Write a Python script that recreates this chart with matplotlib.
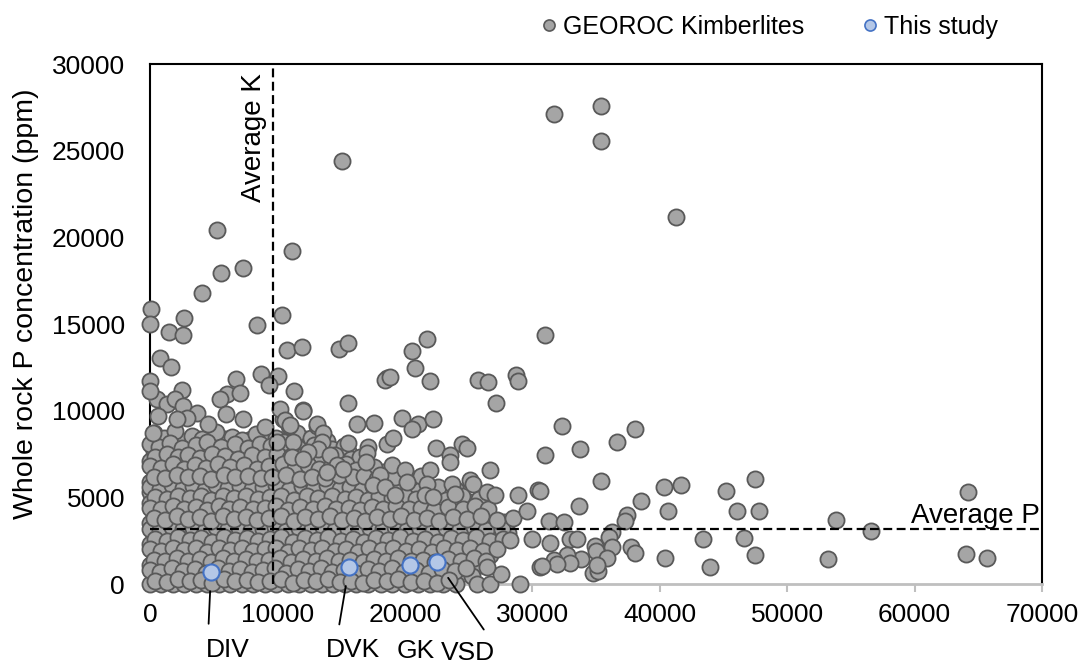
import numpy as np
import matplotlib.pyplot as plt
from matplotlib.lines import Line2D

plt.rcParams['font.family'] = ['Liberation Sans', 'DejaVu Sans']

# GEOROC kimberlites, K (ppm) vs P (ppm)
# sparse points (high P or high K)
outer = [(31700, 27100), (35400, 27560), (35400, 25530), (15070, 24430), (41290, 21190),
         (5260, 20440), (11150, 19220), (5570, 17950), (7300, 18240), (4080, 16790),
         (80, 15860), (0, 15000), (2670, 15340), (1490, 14530), (2590, 14360),
         (790, 13030), (1650, 12510), (8400, 14940), (10360, 15520), (10750, 13490),
         (11930, 13660), (14840, 13550), (15540, 13900), (31010, 14360), (20570, 13430),
         (21740, 14130), (20800, 12450), (18450, 11750), (18840, 11930), (21980, 11700),
         (25750, 11750), (26530, 11640), (28730, 12040), (28890, 11700), (27160, 10420),
         (15540, 10420), (16250, 9210), (17580, 9260), (19780, 9550), (21040, 9210),
         (22220, 9500), (20570, 8920), (32340, 9090), (31010, 7470), (33760, 7760),
         (36660, 8220), (38070, 8920), (35400, 5960), (30620, 5380), (33680, 4520),
         (38540, 4810), (40350, 5620), (41680, 5730), (40660, 4230), (45220, 5380),
         (47490, 6080), (46080, 4230), (47810, 4230), (31320, 3650), (32500, 3590),
         (37440, 4000), (37290, 3650), (36270, 3010), (32970, 2610), (33520, 2610),
         (31400, 2370), (36030, 2720), (36270, 2140), (37760, 2140), (38070, 1790),
         (34930, 2200), (35010, 1910), (35870, 1510), (33830, 1450), (32730, 1680),
         (32970, 1220), (31710, 1390), (31950, 1160), (30770, 1040), (34780, 640),
         (35170, 750), (35090, 1100), (43410, 2610), (46630, 2660), (40430, 1510),
         (43960, 980), (47490, 1680), (53850, 3710), (56600, 3070), (53220, 1450),
         (64210, 5330), (64060, 1740), (65700, 1510)]

# intermediate density, 10000-30000 ppm K
middle = [(18600, 11870), (12010, 9960), (10200, 10070), (10600, 9440), (10990, 9150),
          (13110, 9210), (13580, 8740), (15540, 8160), (13500, 8220), (13190, 7760),
          (12400, 7640), (11230, 8220), (9970, 8220), (11150, 7350), (12010, 7240),
          (14130, 7470), (14680, 6890), (15150, 6660), (13890, 6480), (17110, 7930),
          (17030, 7530), (16960, 7060), (18600, 8050), (19080, 8400), (19000, 6890),
          (20020, 6600), (21980, 6600), (22450, 7870), (23550, 7470), (23550, 7060),
          (24490, 8050), (24880, 7870), (26690, 6600), (18060, 6310), (17510, 5730),
          (18450, 5620), (20170, 5910), (21740, 5790), (21590, 5150), (23710, 5790),
          (25120, 6020), (25360, 5790), (23940, 5210), (26450, 5330), (27080, 5150),
          (28890, 5150), (30460, 5440), (22220, 5040), (19230, 5150), (29590, 4230),
          (28260, 2550), (29990, 2610), (30620, 980), (29050, 0), (25670, 0),
          (26690, 0), (27550, 580), (26450, 980)]

# low K, moderately high P
left_upper = [(6750, 11810), (8710, 12100), (10050, 11990), (9340, 11460), (11300, 11120),
              (0, 11700), (2510, 11170), (6040, 10940), (7070, 11000), (5500, 10650),
              (12010, 10020), (550, 10650), (1330, 10360), (0, 11120), (1960, 10650),
              (2590, 10250), (3690, 9840), (4550, 9210), (5970, 9790), (7300, 9500),
              (9030, 9030), (10440, 9500), (10910, 9090), (13110, 9090), (2900, 9550),
              (630, 9670), (2120, 9500), (240, 8690)]

# dense cloud, K < 28000 ppm and P < 9000 ppm
dense_hi = [(300, 8700), (1100, 8450), (2000, 8800), (3300, 8550), (4100, 8350), (5200, 8750),
            (6400, 8500), (7200, 8300), (8300, 8650), (9900, 8400), (11500, 8700), (12600, 8450),
            (13900, 8250),
            (0, 8050), (700, 7900), (1600, 8150), (2500, 7850), (3600, 8000), (4500, 8200),
            (5600, 7900), (6700, 8100), (7700, 7850), (8600, 8050), (9500, 7950), (10500, 8200),
            (11600, 7850), (12900, 8000), (14300, 7800), (15200, 7950),
            (400, 7350), (1300, 7500), (2200, 7300), (3000, 7450), (3900, 7250), (4900, 7500),
            (5900, 7400), (6900, 7200), (8000, 7450), (9000, 7300), (10000, 7500), (11000, 7250),
            (12000, 7400), (13400, 7300), (14500, 7450), (15800, 7200), (16500, 7350),
            (0, 6800), (900, 6700), (1800, 6900), (2700, 6650), (3500, 6850), (4400, 6700),
            (5300, 6950), (6300, 6750), (7400, 6850), (8400, 6650), (9300, 6800), (10400, 6900),
            (11400, 6700), (12400, 6850), (13300, 6650), (14200, 6750), (15400, 6900),
            (16200, 6600), (17600, 6750),
            (300, 6200), (1200, 6100), (2100, 6300), (3000, 6150), (3900, 6250), (4800, 6050),
            (5800, 6300), (6700, 6150), (7700, 6250), (8700, 6100), (9600, 6200), (10700, 6300),
            (11800, 6050), (12700, 6200), (13700, 6100), (14800, 6300), (15900, 6150),
            (16800, 6250), (17800, 6050), (19200, 6200), (20400, 6100), (21300, 6250)]

dense_mid = [(0, 5600), (800, 5500), (1700, 5700), (2600, 5550), (3400, 5650), (4300, 5450),
             (5200, 5700), (6100, 5550), (7100, 5650), (8000, 5500), (8900, 5600), (9900, 5700),
             (10900, 5450), (11900, 5650), (12900, 5550), (13900, 5700), (14900, 5500),
             (15700, 5600), (16600, 5450), (17500, 5650), (18500, 5550), (19700, 5700),
             (20800, 5500), (22600, 5600), (24000, 5450),
             (400, 5000), (1300, 4900), (2200, 5100), (3100, 4950), (4000, 5050), (4800, 4850),
             (5700, 5100), (6600, 4950), (7500, 5050), (8500, 4900), (9400, 5000), (10300, 5100),
             (11300, 4850), (12300, 5050), (13200, 4950), (14300, 5100), (15300, 4900),
             (16200, 5000), (17100, 4850), (18000, 5050), (19000, 4950), (20000, 5100),
             (20900, 4900), (22000, 5000), (23200, 4850), (24500, 5050), (25800, 4900),
             (0, 4400), (900, 4300), (1800, 4500), (2700, 4350), (3600, 4450), (4500, 4250),
             (5400, 4500), (6200, 4350), (7100, 4450), (8100, 4300), (9000, 4400), (9900, 4500),
             (10800, 4250), (11800, 4450), (12800, 4350), (13700, 4500), (14600, 4300),
             (15600, 4400), (16500, 4250), (17400, 4450), (18300, 4350), (19300, 4500),
             (20300, 4300), (21300, 4400), (22300, 4250), (23400, 4450), (24600, 4350),
             (25500, 4500), (26500, 4300),
             (300, 3800), (1200, 3700), (2100, 3900), (3000, 3750), (3900, 3850), (4800, 3650),
             (5700, 3900), (6600, 3750), (7500, 3850), (8400, 3700), (9300, 3800), (10300, 3900),
             (11300, 3650), (12200, 3850), (13200, 3750), (14100, 3900), (15100, 3700),
             (16000, 3800), (16900, 3650), (17800, 3850), (18800, 3750), (19700, 3900),
             (20700, 3700), (21700, 3800), (22700, 3650), (23800, 3850), (24900, 3750),
             (26000, 3900), (27200, 3700), (28500, 3800)]

dense_lo = [(0, 3200), (800, 3100), (1700, 3300), (2600, 3150), (3400, 3250), (4300, 3050),
            (5200, 3300), (6100, 3150), (7000, 3250), (7900, 3100), (8900, 3200), (9800, 3300),
            (10700, 3050), (11700, 3250), (12700, 3150), (13600, 3300), (14500, 3100),
            (15500, 3200), (16400, 3050), (17300, 3250), (18300, 3150), (19200, 3300),
            (20200, 3100), (21200, 3200), (22200, 3050), (23200, 3250), (24300, 3150),
            (25400, 3300), (26400, 3100), (27600, 3200),
            (400, 2600), (1300, 2500), (2200, 2700), (3100, 2550), (4000, 2650), (4900, 2450),
            (5800, 2700), (6700, 2550), (7600, 2650), (8500, 2500), (9400, 2600), (10300, 2700),
            (11200, 2450), (12200, 2650), (13100, 2550), (14000, 2700), (15000, 2500),
            (15900, 2600), (16800, 2450), (17700, 2650), (18700, 2550), (19600, 2700),
            (20600, 2500), (21600, 2600), (22600, 2450), (23600, 2650), (24600, 2550),
            (25600, 2700), (26700, 2500), (27700, 2600),
            (0, 2000), (900, 1900), (1800, 2100), (2700, 1950), (3600, 2050), (4500, 1850),
            (5400, 2100), (6300, 1950), (7200, 2050), (8100, 1900), (9000, 2000), (9900, 2100),
            (10800, 1850), (11700, 2050), (12600, 1950), (13500, 2100), (14500, 1900),
            (15400, 2000), (16300, 1850), (17200, 2050), (18200, 1950), (19100, 2100),
            (20100, 1900), (21100, 2000), (22100, 1850), (23100, 2050), (24100, 1950),
            (25100, 2100), (26100, 1900), (27200, 2000),
            (300, 1400), (1200, 1300), (2100, 1500), (3000, 1350), (3900, 1450), (4800, 1250),
            (5700, 1500), (6600, 1350), (7500, 1450), (8400, 1300), (9300, 1400), (10200, 1500),
            (11100, 1250), (12000, 1450), (13000, 1350), (13900, 1500), (14800, 1300),
            (15700, 1400), (16700, 1250), (17600, 1450), (18500, 1350), (19500, 1500),
            (20500, 1300), (21400, 1400), (22400, 1250), (23400, 1450), (24400, 1350),
            (25400, 1500), (26400, 1300),
            (0, 800), (800, 700), (1700, 900), (2600, 750), (3500, 850), (4400, 650),
            (5300, 900), (6200, 750), (7100, 850), (8000, 700), (8900, 800), (9800, 900),
            (10700, 650), (11600, 850), (12500, 750), (13400, 900), (14300, 700), (15200, 800),
            (16200, 650), (17100, 850), (18000, 750), (19000, 900), (19900, 700), (20900, 800),
            (21900, 650), (22900, 850), (23900, 750), (24800, 900),
            (400, 200), (1300, 100), (2200, 300), (3100, 150), (4000, 250), (4900, 50),
            (5800, 300), (6700, 150), (7600, 250), (8500, 100), (9400, 200), (10300, 300),
            (11200, 50), (12100, 250), (13000, 150), (14000, 300), (14900, 100), (15800, 200),
            (16700, 50), (17600, 250), (18600, 150), (19500, 300), (20500, 100), (21500, 200),
            (22500, 50), (23500, 250)]

# more of the dense cloud, between the rows above
fill_hi = [(800, 8300), (1600, 8400), (2700, 8250), (3800, 8350), (4700, 8200), (5900, 8350),
           (6900, 8250), (7900, 8350), (9000, 8250), (10800, 8300), (12200, 8350), (13300, 8200),
           (300, 7700), (1100, 7650), (2000, 7750), (3100, 7700), (4200, 7650), (5200, 7750),
           (6300, 7650), (7300, 7700), (8500, 7700), (9600, 7650), (10600, 7750), (11700, 7650),
           (12600, 7700), (13900, 7650), (15500, 7700),
           (0, 7100), (800, 7050), (1700, 7150), (2600, 7050), (3500, 7100), (4400, 7150),
           (5400, 7050), (6400, 7100), (7500, 7150), (8500, 7050), (9500, 7100), (10500, 7150),
           (11500, 7050), (12700, 7100), (13900, 7050), (15000, 7150), (16800, 7000),
           (400, 6500), (1300, 6450), (2200, 6550), (3100, 6450), (4000, 6500), (4900, 6550),
           (5800, 6450), (6800, 6500), (7900, 6550), (8900, 6450), (9800, 6500), (10900, 6550),
           (11900, 6450), (12900, 6500), (13800, 6550), (14700, 6450), (15800, 6500),
           (16900, 6400), (18300, 6450),
           (0, 5900), (800, 5850), (1600, 5950), (2500, 5850), (3500, 5900), (4300, 5950),
           (5300, 5850), (6200, 5900), (7200, 5950), (8200, 5850), (9100, 5900), (10200, 5950),
           (11300, 5850), (12300, 5900), (13200, 5950), (14300, 5850), (15400, 5900),
           (16300, 5950), (17300, 5850), (18300, 5900), (19700, 5950), (21000, 5850),
           (0, 5300), (900, 5250), (1800, 5350), (2700, 5250), (3600, 5300), (4500, 5350),
           (5500, 5250), (6400, 5300), (7300, 5350), (8300, 5250), (9200, 5300), (10100, 5350),
           (11100, 5250), (12100, 5300), (13100, 5350), (14000, 5250), (14900, 5300),
           (15800, 5350), (16700, 5250), (17700, 5300), (18700, 5350), (19500, 5250),
           (20500, 5300), (21500, 5350), (23000, 5250),
           (0, 4700), (800, 4650), (1700, 4750), (2600, 4650), (3500, 4700), (4400, 4750),
           (5200, 4650), (6100, 4700), (7000, 4750), (8000, 4650), (8900, 4700), (9800, 4750),
           (10800, 4650), (11700, 4700), (12700, 4750), (13700, 4650), (14700, 4700),
           (15700, 4750), (16600, 4650), (17500, 4700), (18500, 4750), (19500, 4650),
           (20500, 4700), (21500, 4750), (22600, 4650), (23800, 4700), (25000, 4750),
           (400, 4100), (1300, 4050), (2200, 4150), (3100, 4050), (4000, 4100), (4900, 4150),
           (5800, 4050), (6700, 4100), (7600, 4150), (8500, 4050), (9400, 4100), (10300, 4150),
           (11300, 4050), (12300, 4100), (13200, 4150), (14100, 4050), (15100, 4100),
           (16000, 4150), (17000, 4050), (17900, 4100), (18800, 4150), (19800, 4050),
           (20800, 4100), (21800, 4150), (22800, 4050), (23900, 4100), (25000, 4150),
           (26000, 4050)]

fill_lo = [(0, 3500), (800, 3450), (1700, 3550), (2500, 3450), (3400, 3500), (4300, 3550),
           (5200, 3450), (6100, 3500), (7000, 3550), (7900, 3450), (8800, 3500), (9800, 3550),
           (10800, 3450), (11700, 3500), (12700, 3550), (13600, 3450), (14600, 3500),
           (15500, 3550), (16400, 3450), (17300, 3500), (18300, 3550), (19200, 3450),
           (20200, 3500), (21200, 3550), (22200, 3450), (23300, 3500), (24400, 3550),
           (25500, 3450), (26600, 3500), (27800, 3550),
           (300, 2900), (1200, 2850), (2100, 2950), (3000, 2850), (3900, 2900), (4800, 2950),
           (5700, 2850), (6600, 2900), (7500, 2950), (8400, 2850), (9300, 2900), (10200, 2950),
           (11200, 2850), (12100, 2900), (13100, 2950), (14000, 2850), (15000, 2900),
           (15900, 2950), (16800, 2850), (17800, 2900), (18700, 2950), (19700, 2850),
           (20700, 2900), (21700, 2950), (22700, 2850), (23700, 2900), (24800, 2950),
           (25900, 2850), (26900, 2900), (28100, 2950),
           (0, 2300), (800, 2250), (1700, 2350), (2600, 2250), (3500, 2300), (4400, 2350),
           (5300, 2250), (6200, 2300), (7100, 2350), (8000, 2250), (8900, 2300), (9800, 2350),
           (10700, 2250), (11600, 2300), (12600, 2350), (13500, 2250), (14500, 2300),
           (15400, 2350), (16300, 2250), (17200, 2300), (18200, 2350), (19100, 2250),
           (20100, 2300), (21100, 2350), (22100, 2250), (23100, 2300), (24100, 2350),
           (25100, 2250), (26100, 2300), (27200, 2350),
           (400, 1700), (1300, 1650), (2200, 1750), (3100, 1650), (4000, 1700), (4900, 1750),
           (5800, 1650), (6700, 1700), (7600, 1750), (8500, 1650), (9400, 1700), (10300, 1750),
           (11200, 1650), (12100, 1700), (13000, 1750), (14000, 1650), (14900, 1700),
           (15800, 1750), (16800, 1650), (17700, 1700), (18700, 1750), (19600, 1650),
           (20600, 1700), (21600, 1750), (22600, 1650), (23600, 1700), (24600, 1750),
           (25600, 1650), (26700, 1700),
           (0, 1100), (800, 1050), (1700, 1150), (2600, 1050), (3400, 1100), (4300, 1150),
           (5200, 1050), (6100, 1100), (7000, 1150), (7900, 1050), (8800, 1100), (9700, 1150),
           (10600, 1050), (11500, 1100), (12400, 1150), (13300, 1050), (14300, 1100),
           (15300, 1150), (16200, 1050), (17100, 1100), (18100, 1150), (19000, 1050),
           (20000, 1100), (21000, 1150), (22000, 1050), (23000, 1100), (24000, 1150),
           (25000, 1050), (26000, 1100),
           (300, 500), (1200, 450), (2100, 550), (3000, 450), (3900, 500), (4800, 550),
           (5700, 450), (6600, 500), (7500, 550), (8400, 450), (9300, 500), (10200, 550),
           (11100, 450), (12000, 500), (12900, 550), (13800, 450), (14800, 500), (15700, 550),
           (16600, 450), (17500, 500), (18500, 550), (19400, 450), (20400, 500), (21400, 550),
           (22400, 450), (23400, 500), (24400, 550), (25300, 450),
           (0, 0), (900, 0), (1800, 0), (2700, 0), (3600, 0), (4500, 0), (5400, 0), (6300, 0),
           (7200, 0), (8100, 0), (9000, 0), (9900, 0), (10800, 0), (11700, 0), (12600, 0),
           (13500, 0), (14400, 0), (15300, 0), (16200, 0), (17100, 0), (18100, 0), (19000, 0),
           (20000, 0), (21000, 0), (22000, 0), (23000, 0), (24000, 0)]

# This study
study_names = ['DIV', 'DVK', 'GK', 'VSD']
study_K = [4790, 15620, 20400, 22530]
study_P = [700, 990, 1100, 1280]

avg_K = 9650
avg_P = 3150

georoc = np.array(fill_lo + dense_lo + fill_hi + dense_mid + dense_hi + left_upper + middle + outer)

fig = plt.figure(figsize=(10.81, 6.66), dpi=100)
ax = fig.add_axes([150/1081, 1-584/666, 892/1081, 520/666])

ax.scatter(georoc[:, 0], georoc[:, 1], s=135, c='#a5a5a5', edgecolors='#595959',
           linewidths=1.3, zorder=3, clip_on=False)

ax.plot([avg_K, avg_K], [0, 30000], color='black', lw=1.6, ls=(0, (4, 2)), zorder=4)
ax.plot([0, 70000], [avg_P, avg_P], color='black', lw=1.6, ls=(0, (4, 2)), zorder=4)

ax.scatter(study_K, study_P, s=135, c='#b4c7e7', edgecolors='#4472c4',
           linewidths=1.5, zorder=5, clip_on=False)

ax.text(avg_K - 1450, 29500, 'Average K', rotation=90, ha='center', va='top', fontsize=20)
ax.text(69800, avg_P, 'Average P', ha='right', va='bottom', fontsize=20)

# labels for this study
offs = {'DIV': (12, -56), 'DVK': (3, -60), 'GK': (4, -62), 'VSD': (22, -66)}
rel = {'DIV': (0.05, 1), 'DVK': (0.2, 1), 'GK': (0.5, 1), 'VSD': (0.95, 1)}
for nm, kx, py in zip(study_names, study_K, study_P):
    if nm == 'GK':
        ax.annotate(nm, xy=(kx, py), xytext=offs[nm], textcoords='offset points',
                    ha='center', va='center', fontsize=19, annotation_clip=False)
    else:
        ax.annotate(nm, xy=(kx, py), xytext=offs[nm], textcoords='offset points',
                    ha='center', va='center', fontsize=19, annotation_clip=False,
                    arrowprops=dict(arrowstyle='-', color='black', lw=1.3,
                                    relpos=rel[nm], shrinkA=8, shrinkB=14))

ax.set_xlim(0, 70000)
ax.set_ylim(0, 30000)
ax.set_xticks(np.arange(0, 70001, 10000))
ax.set_yticks(np.arange(0, 30001, 5000))
ax.tick_params(axis='x', length=6, width=1.5, color='#bfbfbf', pad=8, labelsize=19)
ax.tick_params(axis='y', length=0, pad=18, labelsize=19)

for s in ['left', 'top', 'right']:
    ax.spines[s].set_color('black')
    ax.spines[s].set_linewidth(1.5)
ax.spines['bottom'].set_color('#bfbfbf')
ax.spines['bottom'].set_linewidth(2)

fig.text(26/1081, 1-304/666, 'Whole rock P concentration (ppm)', rotation=90,
         ha='center', va='center', fontsize=20.5)

handles = [Line2D([], [], ls='none', marker='o', ms=8, mfc='#a5a5a5', mec='#595959', mew=1.2),
           Line2D([], [], ls='none', marker='o', ms=8, mfc='#b4c7e7', mec='#4472c4', mew=1.2)]
fig.legend(handles, ['GEOROC Kimberlites', 'This study'], ncol=2, frameon=False,
           loc='center right', bbox_to_anchor=(1008/1081, 1-27/666), fontsize=18,
           handlelength=0.7, handletextpad=0.2, columnspacing=2.3, borderaxespad=0)

fig.savefig('out.png', dpi=100)
